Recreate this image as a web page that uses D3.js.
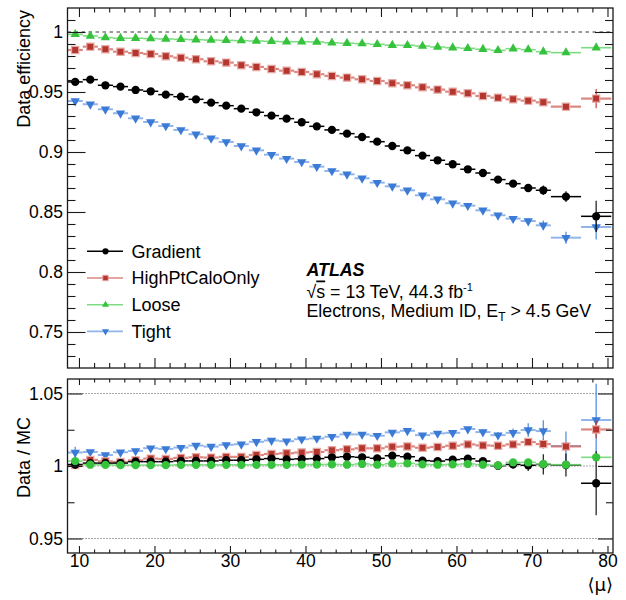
<!DOCTYPE html>
<html>
<head>
<meta charset="utf-8">
<script src="https://cdn.jsdelivr.net/npm/d3@7/dist/d3.min.js"></script>
<style>
  html, body { margin: 0; padding: 0; background: #fff; }
  svg { display: block; font-family: "Liberation Sans", Arial, Helvetica, sans-serif; }
</style>
</head>
<body>
<svg id="chart" width="626" height="600"></svg>
<script>
// <mu> bin centres and edges
const muCenters = [9.5, 11.5, 13.5, 15.5, 17.5, 19.5, 21.5, 23.5, 25.5, 27.5, 29.5, 31.5,
  33.5, 35.5, 37.5, 39.5, 41.5, 43.5, 45.5, 47.5, 49.5, 51.5, 53.5, 55.5, 57.5, 59.5,
  61.5, 63.5, 65.5, 67.5, 69.5, 71.5, 74.5, 78.5];
const muEdges = [8.5, 10.5, 12.5, 14.5, 16.5, 18.5, 20.5, 22.5, 24.5, 26.5, 28.5, 30.5, 32.5,
  34.5, 36.5, 38.5, 40.5, 42.5, 44.5, 46.5, 48.5, 50.5, 52.5, 54.5, 56.5, 58.5, 60.5,
  62.5, 64.5, 66.5, 68.5, 70.5, 72.5, 76.5, 80.5];

const seriesNames = ["Gradient", "HighPtCaloOnly", "Loose", "Tight"];

// data efficiency
const gradientEff = [0.9584, 0.9603, 0.9556, 0.9545, 0.9517, 0.9506, 0.9478, 0.9461, 0.9439,
  0.9411, 0.9386, 0.9361, 0.9331, 0.9303, 0.9278, 0.9248, 0.9214, 0.9184, 0.9153, 0.9125,
  0.9086, 0.9050, 0.9014, 0.8970, 0.8931, 0.8898, 0.8856, 0.8825, 0.8770, 0.8736, 0.8700,
  0.8681, 0.8628, 0.8464];
const highPtEff = [0.9850, 0.9878, 0.9856, 0.9836, 0.9825, 0.9817, 0.9798, 0.9786, 0.9773,
  0.9756, 0.9745, 0.9723, 0.9709, 0.9692, 0.9678, 0.9667, 0.9648, 0.9634, 0.9620, 0.9606,
  0.9592, 0.9573, 0.9556, 0.9539, 0.9520, 0.9503, 0.9489, 0.9467, 0.9453, 0.9439, 0.9428,
  0.9414, 0.9378, 0.9445];
const looseEff = [0.9980, 0.9967, 0.9953, 0.9948, 0.9948, 0.9945, 0.9942, 0.9939, 0.9936,
  0.9933, 0.9930, 0.9928, 0.9925, 0.9922, 0.9919, 0.9919, 0.9917, 0.9910, 0.9906, 0.9903,
  0.9897, 0.9890, 0.9889, 0.9883, 0.9875, 0.9869, 0.9864, 0.9856, 0.9847, 0.9861, 0.9853,
  0.9836, 0.9828, 0.9869];
const tightEff = [0.9425, 0.9398, 0.9356, 0.9323, 0.9281, 0.9250, 0.9217, 0.9184, 0.9148,
  0.9114, 0.9084, 0.9050, 0.9014, 0.8978, 0.8945, 0.8917, 0.8878, 0.8842, 0.8814, 0.8781,
  0.8745, 0.8714, 0.8681, 0.8639, 0.8606, 0.8573, 0.8553, 0.8514, 0.8473, 0.8445, 0.8425,
  0.8389, 0.8286, 0.8375];

// statistical uncertainties on the efficiencies
const gradientEffErr = [0.0015, 0.0012, 0.0012, 0.0012, 0.0012, 0.0012, 0.0012, 0.0012, 0.0012,
  0.0012, 0.0012, 0.0012, 0.0012, 0.0012, 0.0012, 0.0012, 0.0012, 0.0012, 0.0012, 0.0012,
  0.0012, 0.0012, 0.0012, 0.0012, 0.0012, 0.0012, 0.0015, 0.0015, 0.0018, 0.0020, 0.0025,
  0.0040, 0.0045, 0.0130];
const highPtEffErr = [0.0012, 0.0010, 0.0010, 0.0010, 0.0010, 0.0010, 0.0010, 0.0010, 0.0010,
  0.0010, 0.0010, 0.0010, 0.0010, 0.0010, 0.0010, 0.0010, 0.0010, 0.0010, 0.0010, 0.0010,
  0.0010, 0.0010, 0.0010, 0.0010, 0.0010, 0.0010, 0.0010, 0.0010, 0.0012, 0.0012, 0.0013,
  0.0015, 0.0020, 0.0080];
const looseEffErr = [0.0007, 0.0007, 0.0007, 0.0007, 0.0007, 0.0007, 0.0007, 0.0007, 0.0007,
  0.0007, 0.0007, 0.0007, 0.0007, 0.0007, 0.0007, 0.0007, 0.0007, 0.0007, 0.0007, 0.0007,
  0.0007, 0.0007, 0.0007, 0.0007, 0.0007, 0.0007, 0.0007, 0.0007, 0.0008, 0.0008, 0.0009,
  0.0010, 0.0010, 0.0015];
const tightEffErr = [0.0018, 0.0015, 0.0015, 0.0015, 0.0015, 0.0015, 0.0015, 0.0015, 0.0015,
  0.0015, 0.0015, 0.0015, 0.0015, 0.0015, 0.0015, 0.0015, 0.0015, 0.0015, 0.0015, 0.0015,
  0.0015, 0.0015, 0.0015, 0.0015, 0.0015, 0.0015, 0.0015, 0.0017, 0.0018, 0.0020, 0.0025,
  0.0040, 0.0050, 0.0105];

// data / MC ratios
const gradientRatio = [1.0010, 1.0020, 1.0020, 1.0020, 1.0030, 1.0030, 1.0030, 1.0035, 1.0035,
  1.0035, 1.0040, 1.0040, 1.0046, 1.0051, 1.0046, 1.0049, 1.0051, 1.0060, 1.0064, 1.0060,
  1.0053, 1.0071, 1.0064, 1.0037, 1.0034, 1.0044, 1.0050, 1.0034, 1.0002, 1.0011, 1.0005,
  1.0011, 1.0007, 0.9881];
const highPtRatio = [1.0007, 1.0042, 1.0032, 1.0028, 1.0039, 1.0051, 1.0049, 1.0056, 1.0060,
  1.0058, 1.0063, 1.0063, 1.0076, 1.0083, 1.0088, 1.0093, 1.0097, 1.0109, 1.0115, 1.0122,
  1.0122, 1.0133, 1.0135, 1.0126, 1.0131, 1.0140, 1.0149, 1.0142, 1.0140, 1.0149, 1.0165,
  1.0151, 1.0135, 1.0252];
const looseRatio = [1.0034, 1.0009, 1.0008, 1.0006, 1.0006, 1.0006, 1.0006, 1.0008, 1.0008,
  1.0008, 1.0008, 1.0008, 1.0008, 1.0008, 1.0008, 1.0010, 1.0010, 1.0011, 1.0009, 1.0014,
  1.0009, 1.0016, 1.0018, 1.0011, 1.0009, 1.0011, 1.0014, 1.0009, 1.0005, 1.0025, 1.0025,
  1.0014, 1.0009, 1.0060];
const tightRatio = [1.0093, 1.0097, 1.0076, 1.0095, 1.0104, 1.0123, 1.0118, 1.0127, 1.0141,
  1.0134, 1.0146, 1.0150, 1.0167, 1.0176, 1.0171, 1.0185, 1.0190, 1.0202, 1.0218, 1.0218,
  1.0209, 1.0232, 1.0243, 1.0213, 1.0225, 1.0229, 1.0255, 1.0234, 1.0213, 1.0229, 1.0248,
  1.0241, 1.0138, 1.0317];

// uncertainties on the ratios
const gradientRatioErr = [0.0030, 0.0012, 0.0012, 0.0012, 0.0012, 0.0012, 0.0012, 0.0012, 0.0012,
  0.0012, 0.0012, 0.0012, 0.0012, 0.0012, 0.0012, 0.0012, 0.0012, 0.0012, 0.0012, 0.0012,
  0.0012, 0.0012, 0.0012, 0.0012, 0.0012, 0.0012, 0.0015, 0.0015, 0.0020, 0.0030, 0.0040,
  0.0070, 0.0080, 0.0220];
const highPtRatioErr = [0.0020, 0.0010, 0.0010, 0.0010, 0.0010, 0.0010, 0.0010, 0.0010, 0.0010,
  0.0010, 0.0010, 0.0010, 0.0010, 0.0010, 0.0010, 0.0010, 0.0010, 0.0010, 0.0010, 0.0010,
  0.0010, 0.0010, 0.0010, 0.0010, 0.0010, 0.0010, 0.0012, 0.0012, 0.0012, 0.0015, 0.0020,
  0.0030, 0.0030, 0.0060];
const looseRatioErr = [0.0010, 0.0007, 0.0007, 0.0007, 0.0007, 0.0007, 0.0007, 0.0007, 0.0007,
  0.0007, 0.0007, 0.0007, 0.0007, 0.0007, 0.0007, 0.0007, 0.0007, 0.0007, 0.0007, 0.0007,
  0.0007, 0.0007, 0.0007, 0.0007, 0.0007, 0.0007, 0.0007, 0.0007, 0.0008, 0.0008, 0.0009,
  0.0010, 0.0010, 0.0020];
const tightRatioErr = [0.0040, 0.0015, 0.0015, 0.0015, 0.0015, 0.0015, 0.0015, 0.0015, 0.0015,
  0.0015, 0.0015, 0.0015, 0.0015, 0.0015, 0.0015, 0.0015, 0.0015, 0.0015, 0.0015, 0.0015,
  0.0015, 0.0015, 0.0015, 0.0015, 0.0015, 0.0015, 0.0015, 0.0020, 0.0022, 0.0030, 0.0046,
  0.0075, 0.0100, 0.0250];

// axis ticks
const xMajorTicks = [10, 20, 30, 40, 50, 60, 70, 80];
const xMinorTicks = [12, 14, 16, 18, 22, 24, 26, 28, 32, 34, 36, 38, 42, 44, 46, 48,
  52, 54, 56, 58, 62, 64, 66, 68, 72, 74, 76, 78];
const effMajorTicks = [0.75, 0.8, 0.85, 0.9, 0.95, 1];
const effMinorTicks = [0.73, 0.74, 0.76, 0.77, 0.78, 0.79, 0.81, 0.82, 0.83, 0.84, 0.86,
  0.87, 0.88, 0.89, 0.91, 0.92, 0.93, 0.94, 0.96, 0.97, 0.98, 0.99, 1.01];
const ratioMajorTicks = [0.95, 1, 1.05];
const ratioMinorTicks = [0.975, 1.025];
const ratioGuideLines = [0.95, 1, 1.05];

// ---------------------------------------------------------------------------
const styles = {
  "Gradient":       { marker: "#000000", bar: "#000000", barWidth: 1.5, barOpacity: 1,   shapeTop: "circle",   shapeBottom: "circle" },
  "HighPtCaloOnly": { marker: "#b5352f", bar: "#d36a63", barWidth: 2.2, barOpacity: 0.8, shapeTop: "square",   shapeBottom: "square", halo: "#e6aaa5" },
  "Loose":          { marker: "#36c23c", bar: "#6fd873", barWidth: 1.6, barOpacity: 0.9, shapeTop: "triUp",    shapeBottom: "circle" },
  "Tight":          { marker: "#3b7bd6", bar: "#7ea8e6", barWidth: 2.0, barOpacity: 0.85, shapeTop: "triDown", shapeBottom: "triDown" }
};

const effSeries = {
  "Gradient": [gradientEff, gradientEffErr],
  "HighPtCaloOnly": [highPtEff, highPtEffErr],
  "Loose": [looseEff, looseEffErr],
  "Tight": [tightEff, tightEffErr]
};
const ratioSeries = {
  "Gradient": [gradientRatio, gradientRatioErr],
  "HighPtCaloOnly": [highPtRatio, highPtRatioErr],
  "Loose": [looseRatio, looseRatioErr],
  "Tight": [tightRatio, tightRatioErr]
};

const svg = d3.select("#chart");
const frameL = 67.5, frameR = 613;
const upperBox = { y0: 8, y1: 368 };
const lowerBox = { y0: 379, y1: 553 };

const x = d3.scaleLinear().domain([8.48, 80.73]).range([frameL, frameR]);
const yEff = d3.scaleLinear().domain([0.72, 1.02]).range([upperBox.y1, upperBox.y0]);
const yRatio = d3.scaleLinear().domain([0.94, 1.06]).range([lowerBox.y1, lowerBox.y0]);

const symbols = {
  circle: d3.symbol().type(d3.symbolCircle).size(54),
  square: d3.symbol().type(d3.symbolSquare).size(52),
  triUp: d3.symbol().type(d3.symbolTriangle).size(38),
  triDown: d3.symbol().type(d3.symbolTriangle).size(38)
};

function drawMarker(g, shape, cx, cy, st) {
  const p = g.append("path")
    .attr("d", symbols[shape]())
    .attr("fill", st.marker)
    .attr("transform", `translate(${cx},${cy})` + (shape === "triDown" ? " rotate(180)" : ""));
  if (st.halo) p.attr("stroke", st.halo).attr("stroke-width", 1.2);
  return p;
}

function drawSeries(g, yScale, name, values, errs, shape) {
  const st = styles[name];
  const s = g.append("g");
  values.forEach((v, i) => {
    const cx = x(muCenters[i]), cy = yScale(v);
    s.append("line")
      .attr("x1", x(muEdges[i])).attr("x2", x(muEdges[i + 1]))
      .attr("y1", cy).attr("y2", cy)
      .attr("stroke", st.bar).attr("stroke-width", st.barWidth)
      .attr("stroke-opacity", st.barOpacity);
    s.append("line")
      .attr("x1", cx).attr("x2", cx)
      .attr("y1", yScale(v - errs[i])).attr("y2", yScale(v + errs[i]))
      .attr("stroke", st.marker).attr("stroke-width", 1.3)
      .attr("stroke-opacity", 0.85);
  });
  values.forEach((v, i) => drawMarker(s, shape, x(muCenters[i]), yScale(v), st));
}

function drawFrameAxes(y0, y1, yScale, yMajor, yMinor, tl) {
  const g = svg.append("g");
  // left / right axes with inward ticks
  const left = g.append("g").attr("transform", `translate(${frameL},0)`);
  left.call(d3.axisLeft(yScale).tickValues(yMinor).tickSizeInner(-tl.yMinor).tickSizeOuter(0).tickFormat(""));
  const leftMaj = g.append("g").attr("transform", `translate(${frameL},0)`);
  leftMaj.call(d3.axisLeft(yScale).tickValues(yMajor).tickSizeInner(-tl.yMajor).tickSizeOuter(0)
      .tickPadding(4.5).tickFormat(d => String(d)));
  const right = g.append("g").attr("transform", `translate(${frameR},0)`);
  right.call(d3.axisRight(yScale).tickValues(yMinor).tickSizeInner(-tl.yMinor).tickSizeOuter(0).tickFormat(""));
  right.append("g").call(d3.axisRight(yScale).tickValues(yMajor).tickSizeInner(-tl.yMajor).tickSizeOuter(0).tickFormat(""));
  // top / bottom axes
  const tp = g.append("g").attr("transform", `translate(0,${y0})`);
  tp.call(d3.axisTop(x).tickValues(xMinorTicks).tickSizeInner(-tl.xMinorTop).tickSizeOuter(0).tickFormat(""));
  tp.append("g").call(d3.axisTop(x).tickValues(xMajorTicks).tickSizeInner(-tl.xMajorTop).tickSizeOuter(0).tickFormat(""));
  const bt = g.append("g").attr("transform", `translate(0,${y1})`);
  bt.call(d3.axisBottom(x).tickValues(xMinorTicks).tickSizeInner(-tl.xMinor).tickSizeOuter(0).tickFormat(""));
  const btMaj = g.append("g").attr("transform", `translate(0,${y1})`);
  btMaj.call(d3.axisBottom(x).tickValues(xMajorTicks).tickSizeInner(-tl.xMajor).tickSizeOuter(0)
      .tickPadding(2).tickFormat(tl.xLabels ? (d => String(d)) : ""));
  g.selectAll(".domain").remove();
  g.selectAll(".tick line").attr("stroke", "#1a1a1a").attr("stroke-width", 1.1);
  g.selectAll(".tick text").attr("fill", "#000").attr("font-size", 17.5)
    .attr("font-family", "'Liberation Sans', Arial, Helvetica, sans-serif");
  // frame
  g.append("rect").attr("x", frameL).attr("y", y0)
    .attr("width", frameR - frameL).attr("height", y1 - y0)
    .attr("fill", "none").attr("stroke", "#1a1a1a").attr("stroke-width", 1.3);
  return g;
}

// ---------------- upper panel ----------------
const upper = svg.append("g");
upper.append("line")
  .attr("x1", frameL).attr("x2", frameR)
  .attr("y1", yEff(1)).attr("y2", yEff(1))
  .attr("stroke", "#7a7a7a").attr("stroke-width", 1.4).attr("stroke-dasharray", "3.5,3.5");

["Loose", "HighPtCaloOnly", "Tight", "Gradient"].forEach(n =>
  drawSeries(upper, yEff, n, effSeries[n][0], effSeries[n][1], styles[n].shapeTop));

drawFrameAxes(upperBox.y0, upperBox.y1, yEff, effMajorTicks, effMinorTicks,
  { yMajor: 18, yMinor: 8, xMajorTop: 9, xMinorTop: 4.5, xMajor: 10, xMinor: 5, xLabels: false });

// ---------------- lower panel ----------------
const lower = svg.append("g");
ratioGuideLines.forEach(v => {
  lower.append("line")
    .attr("x1", frameL).attr("x2", frameR)
    .attr("y1", yRatio(v)).attr("y2", yRatio(v))
    .attr("stroke", "#555").attr("stroke-width", 1.1).attr("stroke-dasharray", "1,2");
});
["Tight", "HighPtCaloOnly", "Gradient", "Loose"].forEach(n =>
  drawSeries(lower, yRatio, n, ratioSeries[n][0], ratioSeries[n][1], styles[n].shapeBottom));

drawFrameAxes(lowerBox.y0, lowerBox.y1, yRatio, ratioMajorTicks, ratioMinorTicks,
  { yMajor: 15, yMinor: 7, xMajorTop: 6, xMinorTop: 3.5, xMajor: 7, xMinor: 3.5, xLabels: true });

// ---------------- titles ----------------
const font = "'Liberation Sans', Arial, Helvetica, sans-serif";
svg.append("text")
  .attr("transform", "translate(30,10) rotate(-90)")
  .attr("text-anchor", "end").attr("font-size", 18).attr("font-family", font)
  .text("Data efficiency");
svg.append("text")
  .attr("transform", "translate(30,417) rotate(-90)")
  .attr("text-anchor", "end").attr("font-size", 18).attr("font-family", font)
  .text("Data / MC");
svg.append("text")
  .attr("x", frameR).attr("y", 591)
  .attr("text-anchor", "end").attr("font-size", 18).attr("font-family", "'DejaVu Sans', sans-serif")
  .text("\u27E8\u03BC\u27E9");

// ---------------- legend ----------------
const legend = svg.append("g");
seriesNames.forEach((n, i) => {
  const st = styles[n];
  const cy = 251.3 + i * 26.7;
  legend.append("line").attr("x1", 87).attr("x2", 123).attr("y1", cy).attr("y2", cy)
    .attr("stroke", st.bar).attr("stroke-width", n === "Gradient" ? 1.4 : 1.6)
    .attr("stroke-opacity", st.barOpacity);
  drawMarker(legend, styles[n].shapeTop, 105.5, cy, st)
    .attr("transform", `translate(105.5,${cy}) scale(0.75)` + (styles[n].shapeTop === "triDown" ? " rotate(180)" : ""));
  legend.append("text").attr("x", 131.5).attr("y", cy + 6.3)
    .attr("font-size", 18).attr("font-family", font).text(n);
});

// ---------------- ATLAS label ----------------
const info = svg.append("g").attr("font-family", font).attr("font-size", 17.8);
info.append("text").attr("x", 306.5).attr("y", 276)
  .attr("font-weight", "bold").attr("font-style", "italic").text("ATLAS");
const l2 = info.append("text").attr("x", 306.5).attr("y", 297.5);
l2.append("tspan").text("\u221A");
l2.append("tspan").attr("style", "text-decoration: overline").text("s");
l2.append("tspan").text(" = 13 TeV, 44.3 fb");
l2.append("tspan").attr("font-size", 11).attr("dy", -7).text("-1");
const l3 = info.append("text").attr("x", 306.5).attr("y", 317);
l3.append("tspan").text("Electrons, Medium ID, E");
l3.append("tspan").attr("font-size", 12).attr("dy", 4).text("T");
l3.append("tspan").attr("dy", -4).text(" > 4.5 GeV");
</script>
</body>
</html>
